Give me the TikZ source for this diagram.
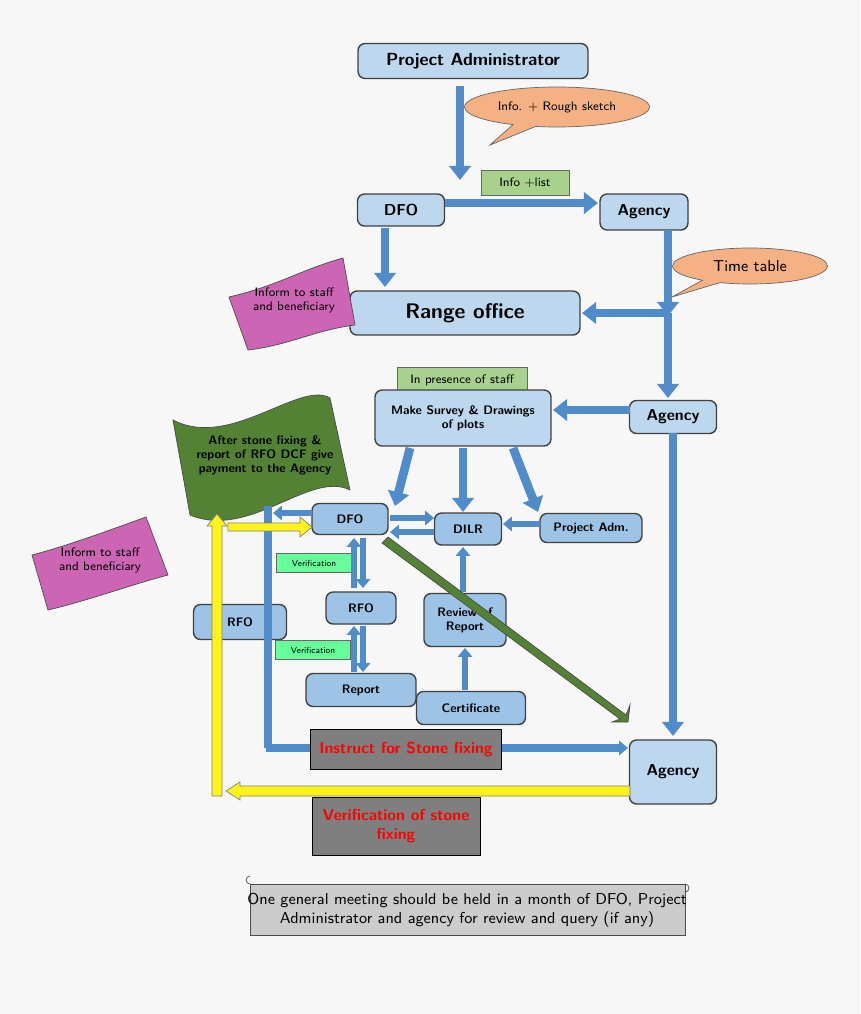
\documentclass[tikz,border=0pt]{standalone}
\usepackage{tikz}
\usetikzlibrary{arrows.meta, shapes.callouts}
\definecolor{boxblue}{HTML}{BDD7EE}
\definecolor{midblue}{HTML}{9DC3E6}
\definecolor{arrblue}{HTML}{4F8CC9}
\definecolor{peach}{HTML}{F4B183}
\definecolor{lgreen}{HTML}{A9D18E}
\definecolor{mint}{HTML}{66FF99}
\definecolor{flag}{HTML}{548235}
\definecolor{pinky}{HTML}{CC66B4}
\definecolor{darkgrey}{HTML}{7F7F7F}
\begin{document}
\sffamily
\begin{tikzpicture}[x=0.02cm, y=-0.02cm,
    box/.style = {draw = black!75, thick, rounded corners = 4pt, fill = boxblue, font = \bfseries\small, align = center},
    sbox/.style = {box, fill = midblue, font = \bfseries\scriptsize},
    tag/.style = {draw = black!60, fill = lgreen, font = \scriptsize, minimum height = 0.5cm},
    ver/.style = {draw = black!60, fill = mint, font = \tiny, text height = 1ex},
    grey/.style = {draw = black, fill = darkgrey, text = red, font = \bfseries\small, align = center},
    bar/.style = {draw = arrblue, line width = 5pt, -{Triangle[width = 12pt, length = 8pt]}},
    thin/.style = {draw = arrblue, line width = 3pt, -{Triangle[width = 8pt, length = 5pt]}},
    yel/.style = {draw = black!50, line width = 0.4pt, fill = yellow!90!white}]
  \useasboundingbox[fill = black!3] (0,0) rectangle (860,1014);
  % top part
  \node[box, minimum width = 4.6cm, minimum height = 0.7cm, font = \bfseries] (pa) at (473,61) {Project Administrator};
  \node[box, minimum width = 1.74cm, minimum height = 0.64cm] (dfo) at (401,210) {DFO};
  \node[box, minimum width = 1.76cm, minimum height = 0.72cm] (ag1) at (644,212) {Agency};
  \node[tag, minimum width = 1.76cm] (info) at (525,183) {Info +list};
  \node[box, minimum width = 4.6cm, minimum height = 0.88cm, font = \bfseries\large] (range) at (465,313) {Range office};
  \node[ellipse callout, draw = black!60, fill = peach, font = \scriptsize, minimum width = 3.7cm, minimum height = 0.8cm,
        callout absolute pointer = {(490,145)}] (sketch) at (557,107) {Info. + Rough sketch};
  \node[ellipse callout, draw = black!60, fill = peach, font = \small, minimum width = 3.1cm, minimum height = 0.72cm,
        callout absolute pointer = {(672,297)}] (time) at (750,266) {Time table};
  \draw[bar] (460,86) -- (460,180);
  \draw[bar] (445,203) -- (598,203);
  \draw[bar] (385,228) -- (385,287);
  \draw[bar] (668,230) -- (668,316);
  \draw[bar] (668,313) -- (582,313);
  \draw[bar] (668,313) -- (668,398);
  % pink note
  \draw[black!70, fill = pinky] (229,297) .. controls (280,285) and (300,270) .. (343,258)
        -- (355,325) .. controls (315,330) and (290,345) .. (248,350) -- cycle;
  \node[font = \scriptsize, align = center, rotate = 0] (staff1) at (294,300) {Inform to staff\\and beneficiary};
  % survey part
  \node[tag, minimum width = 2.6cm] (pres) at (462,380) {In presence of staff};
  \node[box, font = \bfseries\scriptsize, minimum width = 3.52cm, minimum height = 1.12cm] (survey) at (463,418) {Make Survey \& Drawings\\of plots};
  \node[box, minimum width = 1.74cm, minimum height = 0.66cm] (ag2) at (673,417) {Agency};
  \draw[bar] (630,410) -- (553,410);
  \draw[bar] (673,433) -- (673,736);
  % green flag
  \draw[black!70, fill = flag] (173,420) .. controls (230,450) and (300,380) .. (330,398)
        -- (350,490) .. controls (310,470) and (250,540) .. (190,515) -- cycle;
  \node[font = \bfseries\scriptsize, align = center] (pay) at (265,455) {After stone fixing \&\\report of RFO DCF give\\payment to the Agency};
  % middle
  \node[sbox, minimum width = 1.52cm, minimum height = 0.62cm] (dfo2) at (350,519) {DFO};
  \node[sbox, minimum width = 1.34cm, minimum height = 0.64cm] (dilr) at (468,529) {DILR};
  \node[sbox, minimum width = 2.04cm, minimum height = 0.58cm] (padm) at (591,528) {Project Adm.};
  \node[sbox, minimum width = 1.4cm, minimum height = 0.64cm] (rfo) at (361,608) {RFO};
  \node[sbox, minimum width = 1.64cm, minimum height = 1.06cm] (review) at (465,620) {Review of\\Report};
  \node[sbox, minimum width = 1.86cm, minimum height = 0.7cm] (rfo2) at (240,622) {RFO};
  \node[sbox, minimum width = 2.2cm, minimum height = 0.66cm] (report) at (361,690) {Report};
  \node[sbox, minimum width = 2.18cm, minimum height = 0.66cm] (cert) at (471,708) {Certificate};
  \node[ver, minimum width = 1.52cm] (ver1) at (314,563) {Verification};
  \node[ver, minimum width = 1.5cm] (ver2) at (313,650) {Verification};
  \draw[bar] (410,448) -- (395,506);
  \draw[bar] (463,448) -- (463,512);
  \draw[bar] (513,448) -- (538,512);
  \draw[thin] (540,524) -- (503,524);
  \draw[thin] (390,518) -- (434,518);
  \draw[thin] (434,532) -- (390,532);
  \draw[thin] (312,513) -- (273,513);
  \draw[thin] (354,588) -- (354,538);
  \draw[thin] (363,538) -- (363,588);
  \draw[thin] (354,672) -- (354,626);
  \draw[thin] (363,626) -- (363,672);
  \draw[thin] (463,592) -- (463,547);
  \draw[thin] (465,690) -- (465,648);
  \draw[arrblue, line width = 4pt] (268,506) -- (268,748);
  \draw[thin, line width = 4pt] (266,748) -- (628,748);
  \draw[draw = black!70, fill = flag] (388,537) -- (626,715) -- (630,705) -- (628,722) -- (612,722) -- (620,719) -- (382,543) -- cycle;
  % bottom
  \node[grey, minimum width = 3.82cm, minimum height = 0.8cm] (instr) at (406,749) {Instruct for Stone fixing};
  \node[box, minimum width = 1.74cm, minimum height = 1.28cm] (ag3) at (673,772) {Agency};
  \node[grey, minimum width = 3.36cm, minimum height = 1.16cm] (verst) at (396,826) {Verification of stone\\fixing};
  % yellow arrows
  \draw[yel] (630,786) -- (240,786) -- (240,782) -- (226,791) -- (240,800) -- (240,796) -- (630,796) -- cycle;
  \draw[yel] (212,796) -- (212,526) -- (207,526) -- (217,514) -- (227,526) -- (222,526) -- (222,796) -- cycle;
  \draw[yel] (228,523) -- (300,523) -- (300,517) -- (312,527) -- (300,537) -- (300,531) -- (228,531) -- cycle;
  % pink note 2
  \draw[black!70, fill = pinky] (32,555) .. controls (70,545) and (110,530) .. (146,517)
        -- (168,575) .. controls (130,585) and (90,600) .. (48,610) -- cycle;
  \node[font = \scriptsize, align = center] (staff2) at (100,560) {Inform to staff\\and beneficiary};
  % scroll
  \draw[black!70, fill = black!20] (250,884) -- (685,884) -- (685,935) -- (250,935) -- cycle;
  \draw[black!70] (250,884) arc (90:270:4) (685,884) arc (-90:90:4);
  \node[font = \small, align = center] (meet) at (467,910) {One general meeting should be held in a month of DFO, Project\\Administrator and agency for review and query (if any)};
\end{tikzpicture}
\end{document}
